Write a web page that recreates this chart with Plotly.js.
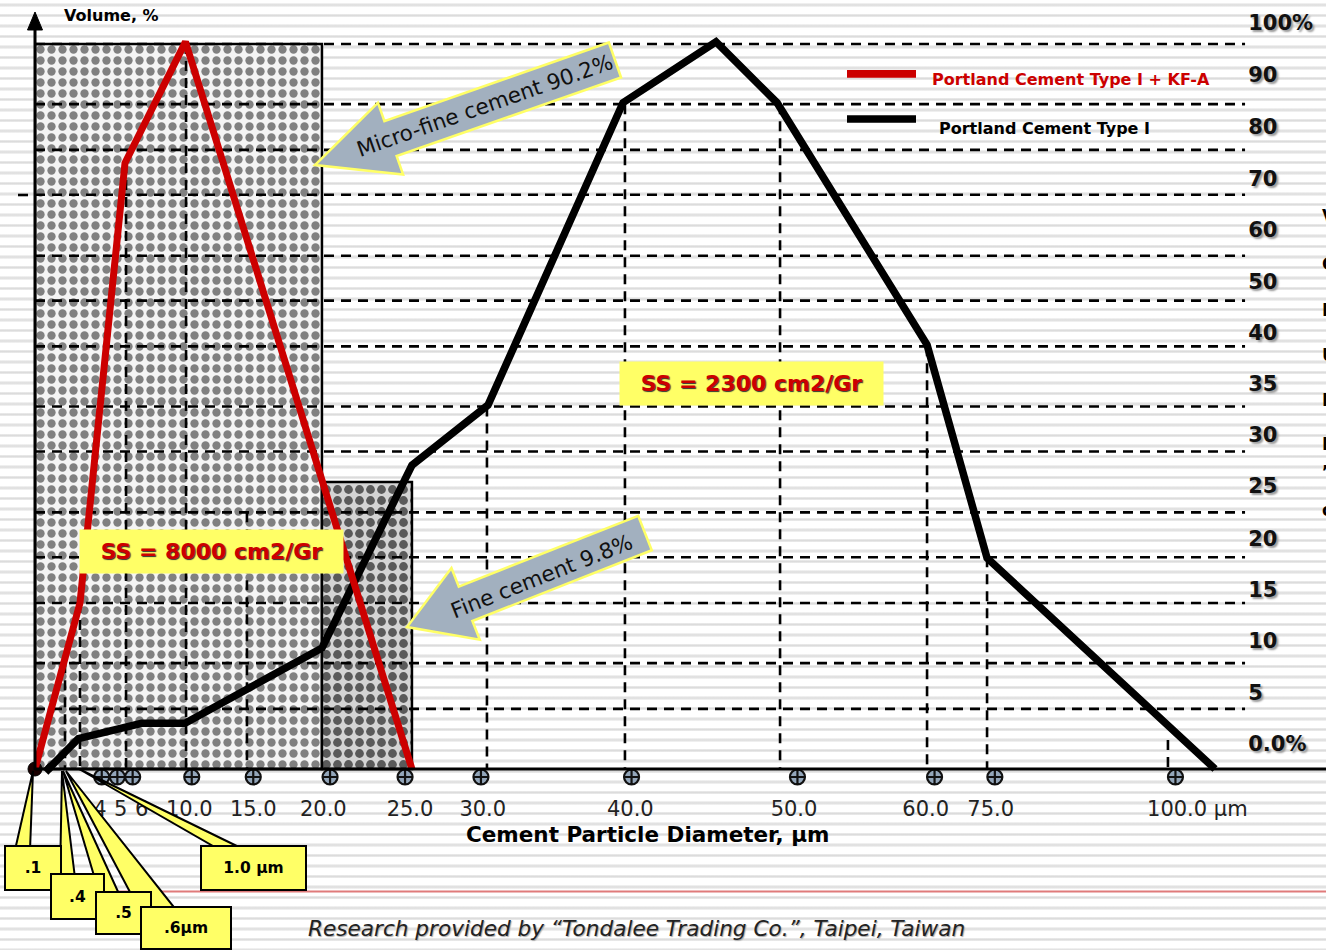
<!DOCTYPE html>
<html>
<head>
<meta charset="utf-8">
<script src="https://cdn.plot.ly/plotly-3.0.1.min.js"></script>
<style>
html,body{margin:0;padding:0;overflow:hidden;}
body{width:1326px;height:950px;
background:repeating-linear-gradient(to bottom,#ffffff 0px,#ffffff 3px,#ececec 3.6px,#dcdcdc 5px,#ececec 6.4px,#ffffff 7px,#ffffff 10.5px);}
#chart{width:1326px;height:950px;}
</style>
</head>
<body>
<div id="chart"></div>
<script>
// ---------------- data (axis units) ----------------
const seriesNames = ['Portland Cement Type I + KF-A', 'Portland Cement Type I'];
const redX = [0, 3.0, 6.0, 10.03, 25.13];
const redY = [0, 22.9, 83.6, 100.3, 0];
const blackX = [0.89, 2.89, 7.11, 10.0, 19.13, 25.13, 30.2, 39.2, 45.4, 49.47, 59.47, 63.47, 78.67];
const blackY = [0, 4.2, 6.3, 6.3, 16.7, 41.9, 50.2, 91.9, 100.3, 91.9, 58.5, 29.1, 0];

const boxStart = [0, 19.13];
const boxEnd = [19.13, 25.13];
const boxTop = [100, 39.6];

const xTickLabels = ['4', '5', '6', '10.0', '15.0', '20.0', '25.0', '30.0', '40.0', '50.0', '60.0', '75.0', '100.0 µm'];
const xTickPos = [4.33, 5.71, 7.11, 10.29, 14.55, 19.22, 25.0, 29.85, 39.69, 50.6, 59.38, 63.71, 77.49];
const markerPos = [4.45, 5.49, 6.51, 10.45, 14.55, 19.67, 24.67, 29.73, 39.77, 50.83, 59.97, 63.99, 76.03];

const yLabels = ['0.0%', '5', '10', '15', '20', '25', '30', '35', '40', '50', '60', '70', '80', '90', '100%'];
const yLabelPos = [3.45, 10.55, 17.66, 24.69, 31.79, 39.03, 46.07, 53.1, 60.21, 67.24, 74.34, 81.45, 88.62, 95.72, 102.97];

const gridY = [100, 91.7, 85.4, 79.2, 70.8, 64.6, 58.3, 50.0, 43.8, 35.4, 29.2, 22.9, 14.6, 8.3];
const gridEndX = 80.67;
const vLineX = [2.0, 3.0, 6.07, 10.07, 14.13, 30.13, 39.33, 49.67, 59.47, 63.47, 75.53];
const vLineTop = [14.6, 22.9, 83.6, 100, 35.4, 50, 91.7, 91.7, 58.3, 29.2, 4.0];

const calloutLabels = ['.1', '.4', '.5', '.6µm', '1.0 µm'];
const arrowLabels = ['Micro-fine cement 90.2%', 'Fine cement 9.8%'];
const ssLabels = ['SS = 8000 cm2/Gr', 'SS = 2300 cm2/Gr'];

// ---------------- geometry helpers (layout only) ----------------
const L = 35, B0 = 769, BP = 794, PW = 1291, PH = 794;
const XR = [0, PW / 15], YR = [-(BP - B0) / 7.25, B0 / 7.25];
const px = x => (x - L) / PW;
const py = y => (BP - y) / PH;
function pathFrom(pts) {
  return 'M ' + pts.map(p => px(p[0]).toFixed(5) + ',' + py(p[1]).toFixed(5)).join(' L ') + ' Z';
}
function blockArrow(T, C, ws, wh, lh) {
  const dx = T[0] - C[0], dy = T[1] - C[1], len = Math.hypot(dx, dy);
  const d = [dx / len, dy / len], n = [-d[1], d[0]];
  const hb = [T[0] - d[0] * lh, T[1] - d[1] * lh];
  const P = (o, s) => [o[0] + n[0] * s, o[1] + n[1] * s];
  return pathFrom([P(C, ws / 2), P(hb, ws / 2), P(hb, wh / 2), T, P(hb, -wh / 2), P(hb, -ws / 2), P(C, -ws / 2)]);
}

// ---------------- traces ----------------
const gx = [], gy = [];
gridY.forEach(v => { gx.push(0, gridEndX, null); gy.push(v, v, null); });
const vx = [], vy = [];
vLineX.forEach((u, i) => { vx.push(u, u, null); vy.push(vLineTop[i], 0, null); });

const dashStyle = {color: '#000', width: 2.6, dash: '10px,7px'};

const traces = [
  {type: 'bar', x: [(boxStart[0] + boxEnd[0]) / 2], y: [boxTop[0]], width: [boxEnd[0] - boxStart[0]],
   marker: {color: '#e0e0e0', pattern: {shape: '.', fgcolor: '#808080', bgcolor: '#f4f4f4', size: 11, solidity: 0.45},
            line: {color: '#000', width: 2.5}}, showlegend: false, hoverinfo: 'skip'},
  {type: 'bar', x: [(boxStart[1] + boxEnd[1]) / 2], y: [boxTop[1]], width: [boxEnd[1] - boxStart[1]],
   marker: {color: '#b8b8b8', pattern: {shape: '.', fgcolor: '#5a5a5a', bgcolor: '#d4d4d4', size: 11, solidity: 0.5},
            line: {color: '#000', width: 2.5}}, showlegend: false, hoverinfo: 'skip'},
  {type: 'scatter', mode: 'lines', x: gx, y: gy, line: dashStyle, showlegend: false, hoverinfo: 'skip', connectgaps: false},
  {type: 'scatter', mode: 'lines', x: vx, y: vy, line: dashStyle, showlegend: false, hoverinfo: 'skip', connectgaps: false},
  {type: 'scatter', mode: 'markers', x: markerPos, y: markerPos.map(() => -1.1), cliponaxis: false,
   marker: {symbol: 'circle-cross', size: 15, color: '#93a6ba', line: {color: '#111', width: 2.2}},
   showlegend: false, hoverinfo: 'skip'},
  {type: 'scatter', mode: 'lines', name: seriesNames[1], x: blackX, y: blackY,
   line: {color: '#000', width: 7.5}, showlegend: false},
  {type: 'scatter', mode: 'markers', x: [blackX[0]], y: [blackY[0]], cliponaxis: false,
   marker: {symbol: 'square', size: 8, color: '#000', angle: 45}, showlegend: false, hoverinfo: 'skip'},
  {type: 'scatter', mode: 'markers', x: [redX[0]], y: [redY[0]], cliponaxis: false,
   marker: {symbol: 'circle', size: 14, color: '#1a0000', line: {color: '#000', width: 1}}, showlegend: false, hoverinfo: 'skip'},
  {type: 'scatter', mode: 'lines', name: seriesNames[0], x: redX, y: redY,
   line: {color: '#cc0000', width: 7}, showlegend: false},
  {type: 'scatter', mode: 'markers', x: [null], y: [null], yaxis: 'y2', showlegend: false, hoverinfo: 'skip'}
];

// ---------------- shapes ----------------
const tails = [
  [[33, 771], [15, 850], [30, 850]],
  [[62, 771], [60, 878], [75, 878]],
  [[63, 771], [100, 896], [120, 896]],
  [[66, 771], [140, 911], [177, 911]],
  [[79, 769], [220, 850], [245, 850]]
];
const shapes = [
  {type: 'line', xref: 'paper', yref: 'paper', x0: px(18), x1: px(35), y0: py(195), y1: py(195), line: dashStyle, layer: 'below'},
  {type: 'line', xref: 'paper', yref: 'y', x0: 0, x1: 1, y0: 0, y1: 0, line: {color: '#000', width: 3}},
  {type: 'line', xref: 'paper', yref: 'paper', x0: px(35), x1: px(35), y0: py(770), y1: py(28), line: {color: '#000', width: 3}},
  {type: 'path', xref: 'paper', yref: 'paper', path: pathFrom([[35, 12], [27.5, 30], [42.5, 30]]), fillcolor: '#000', line: {color: '#000', width: 1}},
  {type: 'rect', xref: 'paper', yref: 'paper', x0: px(847), x1: px(916), y0: py(70), y1: py(77.7), fillcolor: '#cc0000', line: {width: 0}},
  {type: 'rect', xref: 'paper', yref: 'paper', x0: px(847), x1: px(916), y0: py(115.3), y1: py(122.7), fillcolor: '#000', line: {width: 0}},
  {type: 'path', xref: 'paper', yref: 'paper', path: blockArrow([315, 165], [615, 60], 37, 76, 80), fillcolor: '#a2b0bf', line: {color: '#ffff66', width: 2.5}},
  {type: 'path', xref: 'paper', yref: 'paper', path: blockArrow([407, 627], [645, 533], 37, 77, 63), fillcolor: '#a2b0bf', line: {color: '#ffff66', width: 2.5}},
  {type: 'line', xref: 'paper', yref: 'paper', x0: px(60), x1: px(1326), y0: py(891.5), y1: py(891.5), line: {color: '#e07b7b', width: 2}}
];
tails.forEach(t => shapes.push({type: 'path', xref: 'paper', yref: 'paper', path: pathFrom(t),
  fillcolor: '#ffff66', line: {color: '#000', width: 2}}));

// ---------------- annotations ----------------
const A = (x, y, text, font, extra) => Object.assign({xref: 'paper', yref: 'paper', x: px(x), y: py(y), text: text,
  showarrow: false, font: font, xanchor: 'center', yanchor: 'middle'}, extra || {});
const bold = (size, color, more) => Object.assign({family: 'DejaVu Sans', size: size, color: color || '#000', weight: 'bold'}, more || {});

const annotations = [
  A(600, -11, 'CEMENT PARTICLE SIZE DISTRIBUTION', bold(26, '#e3e3e3')),
  A(62, 15, 'Volume, %', bold(16, '#000'), {xanchor: 'left'}),
  A(647, 834, 'Cement Particle Diameter, µm', bold(21.5, '#000')),
  A(930, 79, seriesNames[0], bold(16, '#cc0000'), {xanchor: 'left'}),
  A(937, 129, seriesNames[1], bold(16, '#000'), {xanchor: 'left'}),
  A(485, 106, arrowLabels[0], {family: 'DejaVu Sans', size: 21.5, color: '#111'}, {textangle: -19.3}),
  A(541, 576, arrowLabels[1], {family: 'DejaVu Sans', size: 21.5, color: '#111'}, {textangle: -21.5}),
  A(211.5, 551.5, ssLabels[0], bold(22, '#cc0000', {shadow: '1px 1px 1px #333'}),
    {bgcolor: '#ffff66', width: 263, height: 43, borderpad: 0}),
  A(751.5, 383.5, ssLabels[1], bold(22, '#cc0000', {shadow: '1px 1px 1px #333'}),
    {bgcolor: '#ffff66', width: 263, height: 43, borderpad: 0}),
  A(636, 928, 'Research provided by “Tondalee Trading Co.”, Taipei, Taiwan',
    {family: 'DejaVu Sans', size: 21.6, color: '#222', style: 'italic', shadow: '1px 1px 1px #aaa'})
];
const boxes = [[4, 62, 845, 891], [50, 105, 873, 920], [95, 152, 891, 935], [140, 232, 906, 950], [200, 307, 845, 891]];
boxes.forEach((b, i) => annotations.push(A((b[0] + b[1]) / 2, (b[2] + b[3]) / 2, calloutLabels[i], bold(15.5, '#000'),
  {bgcolor: '#ffff66', bordercolor: '#000', borderwidth: 2, borderpad: 0, width: b[1] - b[0] - 4, height: b[3] - b[2] - 4})));
const edgeLetters = [['V', 216], ['C', 264], ['L', 310], ['U', 355], ['M', 400], ['E', 444], ['’', 472], ['c', 510]];
edgeLetters.forEach(e => annotations.push(A(1320, e[1], e[0] + 'olume', bold(17, '#000'), {xanchor: 'left'})));

// ---------------- layout ----------------
const layout = {
  width: 1326, height: 950,
  margin: {l: L, r: 0, t: 0, b: 950 - BP, pad: 0},
  paper_bgcolor: 'rgba(0,0,0,0)', plot_bgcolor: 'rgba(0,0,0,0)',
  barmode: 'overlay', showlegend: false,
  xaxis: {range: XR, showgrid: false, zeroline: false, showline: false,
          tickmode: 'array', tickvals: xTickPos, ticktext: xTickLabels, ticks: '',
          tickfont: {family: 'DejaVu Sans', size: 21, color: '#222'}, fixedrange: true},
  yaxis: {range: YR, showgrid: false, zeroline: false, showline: false, showticklabels: false, fixedrange: true},
  yaxis2: {range: YR, overlaying: 'y', side: 'right', anchor: 'free', position: px(1240),
           showgrid: false, zeroline: false, showline: false, tickmode: 'array', tickvals: yLabelPos, ticktext: yLabels,
           ticks: 'outside', ticklen: 3, tickcolor: 'rgba(0,0,0,0)',
           tickfont: {family: 'DejaVu Sans', size: 21, color: '#111', weight: 'bold', shadow: '2px 2px 2px #9a9a9a'}, fixedrange: true},
  shapes: shapes,
  annotations: annotations
};

Plotly.newPlot('chart', traces, layout, {displayModeBar: false, staticPlot: true});
</script>
</body>
</html>
